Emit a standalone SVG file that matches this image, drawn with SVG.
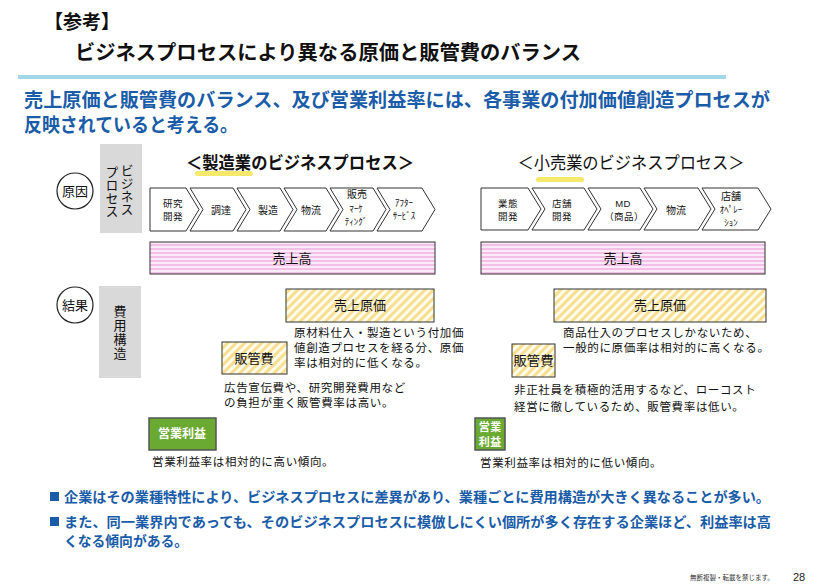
<svg xmlns="http://www.w3.org/2000/svg" width="829" height="585" viewBox="0 0 829 585">
<defs>
<pattern id="pink" width="4" height="4" patternUnits="userSpaceOnUse">
<rect width="4" height="4" fill="#fdeaf8"/>
<rect width="4" height="2" fill="#f2bfe6"/>
</pattern>
<pattern id="hatch" width="6" height="6" patternUnits="userSpaceOnUse" patternTransform="rotate(45)">
<rect width="6" height="6" fill="#fffbea"/>
<rect width="3" height="6" fill="#f6df92"/>
</pattern>
<style>
text{font-family:"Noto Sans CJK JP","Noto Sans",sans-serif;fill:#111}
.h{font-weight:bold}
.blue{fill:#1a5ca8;font-weight:bold}
.lab{font-size:10px;text-anchor:middle}
.lab2{font-size:9.5px;text-anchor:middle;letter-spacing:0.4px}
.hw{font-size:9px}
.chev{fill:#fff;stroke:#333;stroke-width:1}
.body{font-size:11.5px;letter-spacing:0.65px}
.c{text-anchor:middle}
.circ{fill:#fff;stroke:#222;stroke-width:1.2}
.gray{fill:#d9d9d9}
.green{fill:#6aaa32;stroke:#555;stroke-width:1.5}
.wt{fill:#fff;font-weight:bold;font-size:12px;text-anchor:middle}
.vt{writing-mode:vertical-rl;font-size:13px}
</style>
</defs>
<rect width="829" height="585" fill="#fff"/>

<g id="header">
<text x="44" y="29" class="h" font-size="19">【参考】</text>
<text x="75" y="60" class="h" font-size="20" textLength="506" lengthAdjust="spacingAndGlyphs">ビジネスプロセスにより異なる原価と販管費のバランス</text>
<rect x="18" y="75" width="708" height="4" fill="#a3d6e6"/>
<text x="24" y="107" class="blue" font-size="19" textLength="746" lengthAdjust="spacingAndGlyphs">売上原価と販管費のバランス、及び営業利益率には、各事業の付加価値創造プロセスが</text>
<text x="24" y="132" class="blue" font-size="19" textLength="214" lengthAdjust="spacingAndGlyphs">反映されていると考える。</text>
</g>

<g id="cause">
<circle cx="75" cy="191" r="18" class="circ"/>
<text x="75" y="196" class="c" font-size="13">原因</text>
</g>
<g id="bizprocess-label">
<rect x="100" y="144" width="42" height="89" class="gray"/>
<text x="127" y="164" class="vt">ビジネス</text>
<text x="112" y="166" class="vt">プロセス</text>
</g>
<g id="result">
<circle cx="75" cy="305" r="18" class="circ"/>
<text x="75" y="310" class="c" font-size="13">結果</text>
</g>
<g id="cost-label">
<rect x="99" y="286" width="42" height="92" class="gray"/>
<text x="120" y="305" class="vt" letter-spacing="1">費用構造</text>
</g>

<g id="mfg-title">
<rect x="195" y="171" width="58" height="5" rx="2.5" fill="#f5e86a"/>
<text x="300" y="169" class="h c" font-size="17.5" textLength="228" lengthAdjust="spacingAndGlyphs">＜製造業のビジネスプロセス＞</text>
</g>
<g id="retail-title">
<rect x="536" y="177" width="48" height="5" rx="2.5" fill="#f5e86a"/>
<text x="631" y="169" class="c" font-size="17.5" textLength="227" lengthAdjust="spacingAndGlyphs">＜小売業のビジネスプロセス＞</text>
</g>

<g id="mfg-chain">
<polygon class="chev" points="150,188 186,188 199,209.5 186,231 150,231"/>
<polygon class="chev" points="190,188 233,188 246,209.5 233,231 190,231 203,209.5"/>
<polygon class="chev" points="237,188 280,188 293,209.5 280,231 237,231 250,209.5"/>
<polygon class="chev" points="284,188 326,188 339,209.5 326,231 284,231 297,209.5"/>
<polygon class="chev" points="330,188 373,188 386,209.5 373,231 330,231 343,209.5"/>
<polygon class="chev" points="377,188 422,188 435,209.5 422,231 377,231 390,209.5"/>
<text class="lab2"><tspan x="173" y="206.5">研究</tspan><tspan x="173" y="219.5">開発</tspan></text>
<text x="221" y="214" class="lab">調達</text>
<text x="268" y="214" class="lab">製造</text>
<text x="311" y="214" class="lab">物流</text>
<text class="lab"><tspan x="357" y="198">販売</tspan><tspan x="356" y="211.5" class="hw">ﾏｰｹ</tspan><tspan x="356" y="224.5" class="hw">ﾃｨﾝｸﾞ</tspan></text>
<text class="lab hw"><tspan x="404" y="206">ｱﾌﾀｰ</tspan><tspan x="404" y="218.5">ｻｰﾋﾞｽ</tspan></text>
</g>

<g id="retail-chain">
<polygon class="chev" points="481,188 528,188 541,209 528,230 481,230"/>
<polygon class="chev" points="532,188 584,188 597,209 584,230 532,230 545,209"/>
<polygon class="chev" points="588,188 640,188 653,209 640,230 588,230 601,209"/>
<polygon class="chev" points="644,188 698,188 711,209 698,230 644,230 657,209"/>
<polygon class="chev" points="702,188 758,188 771,209 758,230 702,230 715,209"/>
<text class="lab2"><tspan x="508" y="206.5">業態</tspan><tspan x="508" y="219.5">開発</tspan></text>
<text class="lab2"><tspan x="562" y="206.5">店舗</tspan><tspan x="562" y="219.5">開発</tspan></text>
<text class="lab2"><tspan x="623" y="206.5" style="font-family:'Liberation Sans',sans-serif">MD</tspan><tspan x="624" y="219.5">（商品）</tspan></text>
<text x="676" y="214" class="lab">物流</text>
<text class="lab"><tspan x="731" y="200">店舗</tspan><tspan x="731" y="213" class="hw">ｵﾍﾟﾚｰ</tspan><tspan x="731" y="225.5" class="hw">ｼｮﾝ</tspan></text>
</g>

<g id="mfg-sales">
<rect x="150" y="242" width="285" height="32" fill="url(#pink)" stroke="#333" stroke-width="1"/>
<text x="292" y="263" class="c" font-size="13">売上高</text>
</g>
<g id="retail-sales">
<rect x="481" y="242" width="284" height="32" fill="url(#pink)" stroke="#333" stroke-width="1"/>
<text x="623" y="263" class="c" font-size="13">売上高</text>
</g>

<g id="mfg-cogs">
<rect x="286" y="289" width="148" height="33" fill="url(#hatch)" stroke="#333" stroke-width="1"/>
<text x="360" y="310" class="c" font-size="13">売上原価</text>
</g>
<g id="mfg-cogs-note">
<text x="294" y="337" class="body">原材料仕入・製造という付加価</text>
<text x="294" y="352" class="body">値創造プロセスを経る分、原価</text>
<text x="294" y="367" class="body">率は相対的に低くなる。</text>
</g>
<g id="mfg-sga">
<rect x="222" y="342" width="65" height="32" fill="url(#hatch)" stroke="#333" stroke-width="1"/>
<text x="254" y="363" class="c" font-size="13">販管費</text>
</g>
<g id="mfg-sga-note">
<text x="224" y="392" class="body">広告宣伝費や、研究開発費用など</text>
<text x="224" y="407" class="body">の負担が重く販管費率は高い。</text>
</g>
<g id="mfg-profit">
<rect x="149" y="418" width="67" height="32" class="green"/>
<text x="182" y="438" class="wt">営業利益</text>
</g>
<g id="mfg-profit-note">
<text x="152" y="466" class="body">営業利益率は相対的に高い傾向。</text>
</g>

<g id="retail-cogs">
<rect x="554" y="289" width="212" height="33" fill="url(#hatch)" stroke="#333" stroke-width="1"/>
<text x="660" y="310" class="c" font-size="13">売上原価</text>
</g>
<g id="retail-cogs-note">
<text x="563" y="337" class="body">商品仕入のプロセスしかないため、</text>
<text x="563" y="352" class="body">一般的に原価率は相対的に高くなる。</text>
</g>
<g id="retail-sga">
<rect x="512" y="344" width="43" height="33" fill="url(#hatch)" stroke="#333" stroke-width="1"/>
<text x="533.5" y="365" class="c" font-size="13" textLength="40" lengthAdjust="spacingAndGlyphs">販管費</text>
</g>
<g id="retail-sga-note">
<text x="514" y="394" class="body">非正社員を積極的活用するなど、ローコスト</text>
<text x="514" y="411" class="body">経営に徹しているため、販管費率は低い。</text>
</g>
<g id="retail-profit">
<rect x="475" y="418" width="30" height="32" class="green"/>
<text class="wt" font-size="11" style="font-size:11px;letter-spacing:0.5px"><tspan x="490.3" y="431">営業</tspan><tspan x="490.3" y="446">利益</tspan></text>
</g>
<g id="retail-profit-note">
<text x="480" y="467" class="body">営業利益率は相対的に低い傾向。</text>
</g>

<g id="bullets">
<rect x="50" y="492" width="9" height="9" fill="#1a5ca8"/>
<text x="64" y="502" class="blue" font-size="14" textLength="706" lengthAdjust="spacingAndGlyphs">企業はその業種特性により、ビジネスプロセスに差異があり、業種ごとに費用構造が大きく異なることが多い。</text>
<rect x="50" y="517" width="9" height="9" fill="#1a5ca8"/>
<text x="64" y="527" class="blue" font-size="14" textLength="707" lengthAdjust="spacingAndGlyphs">また、同一業界内であっても、そのビジネスプロセスに模倣しにくい個所が多く存在する企業ほど、利益率は高</text>
<text x="64" y="546" class="blue" font-size="14" textLength="124" lengthAdjust="spacingAndGlyphs">くなる傾向がある。</text>
</g>

<g id="footer">
<text x="690" y="580" font-size="6.5" style="fill:#333">無断複製・転載を禁じます。</text>
<text x="793" y="581" font-size="11" style="fill:#222;font-family:'Liberation Sans',sans-serif">28</text>
</g>
</svg>
